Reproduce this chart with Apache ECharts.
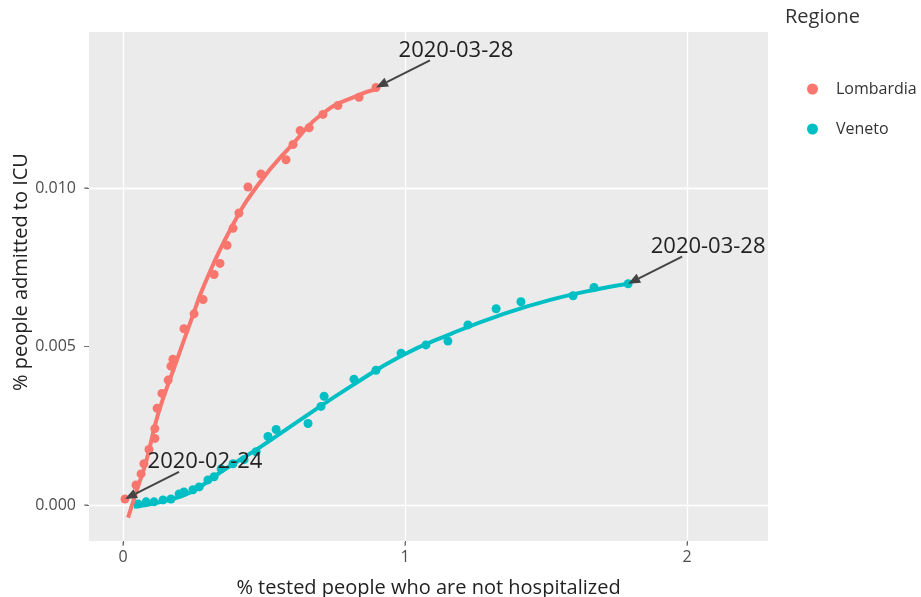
<!DOCTYPE html>
<html>
<head>
<meta charset="utf-8">
<script src="https://cdn.jsdelivr.net/npm/echarts@6/dist/echarts.min.js"></script>
<style>
  html, body { margin: 0; padding: 0; background: #fff; }
  #chart { width: 921px; height: 597px; }
</style>
</head>
<body>
<div id="chart"></div>
<script>
// Lombardia: % tested not hospitalized (x) vs % admitted to ICU (y)
const lombX = [0.007, 0.046, 0.064, 0.074, 0.092, 0.113, 0.113, 0.121, 0.138, 0.160,
  0.170, 0.177, 0.216, 0.252, 0.284, 0.323, 0.344, 0.369, 0.390, 0.411,
  0.443, 0.489, 0.578, 0.603, 0.628, 0.660, 0.709, 0.762, 0.837, 0.897];
const lombY = [0.00019, 0.00063, 0.00098, 0.00130, 0.00175, 0.00210, 0.00241, 0.00305, 0.00352, 0.00394,
  0.00438, 0.00460, 0.00556, 0.00603, 0.00648, 0.00727, 0.00762, 0.00819, 0.00873, 0.00921,
  0.01003, 0.01044, 0.01089, 0.01137, 0.01181, 0.01190, 0.01232, 0.01260, 0.01286, 0.01317];

const venX = [0.053, 0.082, 0.110, 0.142, 0.170, 0.199, 0.216, 0.248, 0.270, 0.301,
  0.323, 0.348, 0.390, 0.429, 0.472, 0.514, 0.543, 0.656, 0.702, 0.713,
  0.819, 0.897, 0.986, 1.074, 1.152, 1.223, 1.323, 1.411, 1.596, 1.670, 1.791];
const venY = [0.00003, 0.00010, 0.00010, 0.00016, 0.00019, 0.00035, 0.00041, 0.00048, 0.00057, 0.00079,
  0.00089, 0.00114, 0.00130, 0.00143, 0.00168, 0.00216, 0.00238, 0.00257, 0.00311, 0.00343,
  0.00397, 0.00425, 0.00479, 0.00505, 0.00517, 0.00568, 0.00619, 0.00641, 0.00660, 0.00686, 0.00698];

// loess fit curves
const lombFitX = [0.018, 0.050, 0.082, 0.124, 0.181, 0.241, 0.287, 0.383, 0.479, 0.596, 0.713, 0.833, 0.900];
const lombFitY = [-0.00040, 0.00050, 0.00137, 0.00286, 0.00432, 0.00581, 0.00692, 0.00873, 0.01010, 0.01133, 0.01238, 0.01292, 0.01312];
const venFitX = [0.039, 0.135, 0.241, 0.348, 0.489, 0.631, 0.809, 0.986, 1.163, 1.340, 1.518, 1.695, 1.791];
const venFitY = [-0.00006, 0.00010, 0.00040, 0.00105, 0.00184, 0.00270, 0.00375, 0.00470, 0.00540, 0.00600, 0.00648, 0.00683, 0.00698];

const xTicks = [0, 1, 2];
const yTicks = [0, 0.005, 0.010];
const yTickLabels = ['0.000', '0.005', '0.010'];

// date labels on first / last observation
const notes = [
  { text: '2020-03-28', x: lombX[lombX.length - 1], y: lombY[lombY.length - 1] },
  { text: '2020-03-28', x: venX[venX.length - 1], y: venY[venY.length - 1] },
  { text: '2020-02-24', x: lombX[0], y: lombY[0] }
];

const RED = '#F8766D';
const CYAN = '#00BFC4';
const FONT = 'Open Sans';

const zip = (a, b) => a.map((v, i) => [v, b[i]]);

const chart = echarts.init(document.getElementById('chart'));

const option = {
  animation: false,
  backgroundColor: '#fff',
  grid: {
    left: 89, right: 153, top: 32, bottom: 56,
    outerBoundsMode: 'none', containLabel: false,
    show: true, backgroundColor: '#EBEBEB', borderWidth: 0
  },
  xAxis: {
    type: 'value', min: -0.1206, max: 2.287, z: 5,
    name: '% tested people who are not hospitalized',
    nameLocation: 'middle', nameGap: 37,
    nameTextStyle: { fontFamily: FONT, fontSize: 20, color: '#222' },
    axisLine: { show: false, onZero: false },
    axisTick: { show: true, customValues: xTicks, length: 4, lineStyle: { color: '#666', width: 1 } },
    axisLabel: { customValues: xTicks, fontFamily: FONT, fontSize: 16, color: '#4D4D4D', margin: 8 },
    splitLine: { show: false }
  },
  yAxis: {
    type: 'value', min: -0.001136, max: 0.01492, z: 5,
    axisLine: { show: false, onZero: false },
    axisTick: { show: true, customValues: yTicks, length: 4, lineStyle: { color: '#666', width: 1 } },
    axisLabel: {
      customValues: yTicks, fontFamily: FONT, fontSize: 16, color: '#4D4D4D', margin: 13,
      formatter: (v) => yTickLabels[yTicks.findIndex((t) => Math.abs(t - v) < 1e-9)] || ''
    },
    splitLine: { show: false }
  },
  legend: {
    orient: 'vertical', left: 802, top: 76,
    itemWidth: 11, itemHeight: 11, itemGap: 24,
    icon: 'circle',
    data: ['Lombardia', 'Veneto'],
    textStyle: { fontFamily: FONT, fontSize: 16, color: '#333', padding: [0, 0, 0, 13] }
  },
  series: [
    {
      // panel grid lines, kept on the bottom layer
      type: 'line', data: [], zlevel: 0, z: 1, silent: true,
      markLine: {
        silent: true, symbol: 'none', label: { show: false },
        lineStyle: { color: '#fff', width: 1.3, type: 'solid' },
        data: xTicks.map((v) => ({ xAxis: v })).concat(yTicks.map((v) => ({ yAxis: v })))
      }
    },
    {
      name: 'Lombardia', type: 'scatter', zlevel: 1, z: 3, symbolSize: 9,
      itemStyle: { color: RED, opacity: 1 }, data: zip(lombX, lombY)
    },
    {
      name: 'Veneto', type: 'scatter', zlevel: 1, z: 3, symbolSize: 9,
      itemStyle: { color: CYAN, opacity: 1 }, data: zip(venX, venY)
    },
    {
      name: 'Lombardia', type: 'line', zlevel: 1, z: 4, smooth: true, showSymbol: false,
      lineStyle: { color: RED, width: 4 }, itemStyle: { color: RED },
      data: zip(lombFitX, lombFitY)
    },
    {
      name: 'Veneto', type: 'line', zlevel: 1, z: 4, smooth: true, showSymbol: false,
      lineStyle: { color: CYAN, width: 4 }, itemStyle: { color: CYAN },
      data: zip(venFitX, venFitY)
    }
  ]
};

chart.setOption(option);

// arrows and date labels, offset in pixels from the point like plotly annotations
function buildNotes() {
  const els = [
    {
      type: 'text', left: 785, top: 7,
      style: { text: 'Regione', font: '20px "' + FONT + '"', fill: '#333' }
    },
    {
      type: 'text', x: 21, y: 272, rotation: Math.PI / 2,
      style: {
        text: '% people admitted to ICU', font: '20px "' + FONT + '"', fill: '#222',
        align: 'center', verticalAlign: 'middle'
      }
    }
  ];
  // small tick marks outside the panel
  xTicks.forEach((v) => {
    const p = chart.convertToPixel({ gridIndex: 0 }, [v, 0]);
    els.push({
      type: 'line', zlevel: 2,
      shape: { x1: p[0], y1: 542, x2: p[0], y2: 546 },
      style: { stroke: '#777', lineWidth: 1 }
    });
  });
  yTicks.forEach((v) => {
    const p = chart.convertToPixel({ gridIndex: 0 }, [0, v]);
    els.push({
      type: 'line', zlevel: 2,
      shape: { x1: 84, y1: p[1], x2: 88, y2: p[1] },
      style: { stroke: '#777', lineWidth: 1 }
    });
  });
  notes.forEach((n) => {
    const tip = chart.convertToPixel({ gridIndex: 0 }, [n.x, n.y]);
    const tail = [tip[0] + 54, tip[1] - 27];
    const dx = tip[0] - tail[0], dy = tip[1] - tail[1];
    const len = Math.sqrt(dx * dx + dy * dy);
    const ux = dx / len, uy = dy / len;
    const hl = 12, hw = 5;
    const base = [tip[0] - ux * hl, tip[1] - uy * hl];
    els.push({
      type: 'line', zlevel: 2,
      shape: { x1: tail[0], y1: tail[1], x2: base[0], y2: base[1] },
      style: { stroke: '#444', lineWidth: 2 }
    });
    els.push({
      type: 'polygon', zlevel: 2,
      shape: { points: [tip, [base[0] - uy * hw, base[1] + ux * hw], [base[0] + uy * hw, base[1] - ux * hw]] },
      style: { fill: '#444' }
    });
    els.push({
      type: 'text', zlevel: 2, x: tip[0] + 80, y: tip[1] - 37,
      style: {
        text: n.text, font: '22px "' + FONT + '"', fill: '#222',
        align: 'center', verticalAlign: 'middle'
      }
    });
  });
  chart.setOption({ graphic: els });
}
buildNotes();
</script>
</body>
</html>
